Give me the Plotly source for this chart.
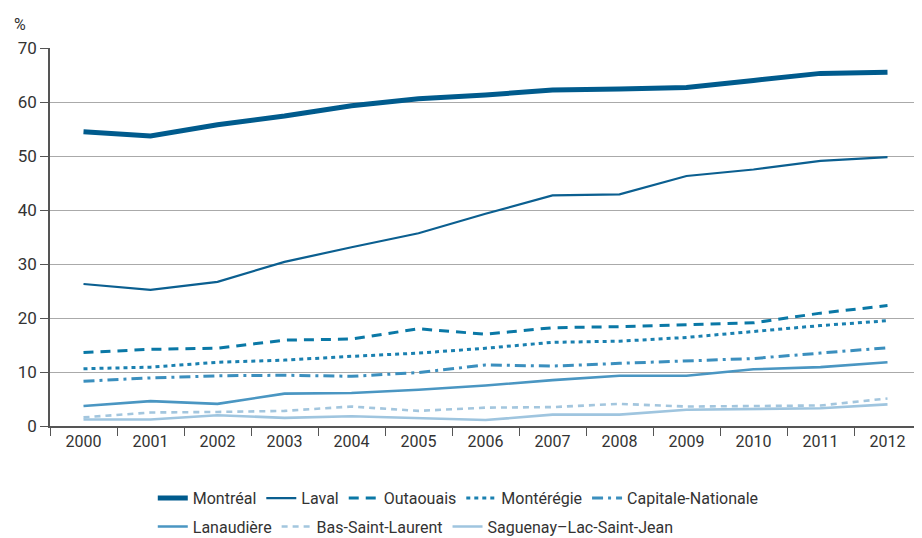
import plotly.graph_objects as go

years = [str(y) for y in range(2000, 2013)]
montreal = [54.5, 53.7, 55.8, 57.4, 59.3, 60.6, 61.3, 62.2, 62.4, 62.7, 64.0, 65.3, 65.5]
laval = [26.3, 25.2, 26.7, 30.4, 33.1, 35.7, 39.3, 42.7, 42.9, 46.3, 47.5, 49.1, 49.8]
outaouais = [13.6, 14.2, 14.4, 15.9, 16.1, 18.0, 17.0, 18.2, 18.4, 18.8, 19.1, 20.9, 22.3]
monteregie = [10.6, 10.9, 11.8, 12.2, 12.9, 13.5, 14.4, 15.5, 15.7, 16.4, 17.5, 18.6, 19.5]
capitale = [8.3, 8.9, 9.3, 9.4, 9.2, 9.9, 11.3, 11.1, 11.6, 12.1, 12.5, 13.5, 14.5]
lanaudiere = [3.7, 4.6, 4.1, 6.0, 6.1, 6.7, 7.5, 8.5, 9.3, 9.3, 10.5, 10.9, 11.8]
bas_st_laurent = [1.6, 2.5, 2.6, 2.8, 3.6, 2.8, 3.4, 3.5, 4.1, 3.6, 3.7, 3.8, 5.1]
saguenay = [1.2, 1.2, 2.0, 1.5, 1.8, 1.5, 1.1, 2.1, 2.1, 3.0, 3.2, 3.3, 4.0]

FONT = "Liberation Sans Narrow, Arial Narrow, Roboto, Liberation Sans, sans-serif"

series = [
    ("Montréal", montreal, "#005b8d", 5, "solid", "legend"),
    ("Laval", laval, "#0b5f90", 2.2, "solid", "legend"),
    ("Outaouais", outaouais, "#0a78a6", 3, "10px,7px", "legend"),
    ("Montérégie", monteregie, "#1a80b0", 3, "4px,4px", "legend"),
    ("Capitale-Nationale", capitale, "#3b8fbe", 3, "11px,5px,3px,5px", "legend"),
    ("Lanaudière", lanaudiere, "#4a96c2", 2.6, "solid", "legend2"),
    ("Bas-Saint-Laurent", bas_st_laurent, "#a3c6de", 2.6, "6px,5px", "legend2"),
    ("Saguenay–Lac-Saint-Jean", saguenay, "#9fc5df", 2.6, "solid", "legend2"),
]

fig = go.Figure()
for name, vals, color, w, dash, lg in series:
    fig.add_trace(go.Scatter(
        x=years, y=vals, name=name, mode="lines",
        line=dict(color=color, width=w, dash=dash),
        legend=lg,
    ))

legend_common = dict(
    orientation="h", xanchor="left", yanchor="top",
    font=dict(family=FONT, size=16, color="#333"),
    bgcolor="rgba(0,0,0,0)", itemwidth=30, tracegroupgap=0,
    traceorder="normal",
)

fig.update_layout(
    width=914, height=530,
    margin=dict(l=42, r=1, t=40, b=112, autoexpand=False),
    paper_bgcolor="white", plot_bgcolor="white",
    font=dict(family=FONT, size=16, color="#333"),
    showlegend=True,
    legend=dict(x=0.118, y=-0.146, **legend_common),
    legend2=dict(x=0.118, y=-0.221, **legend_common),
    xaxis=dict(
        type="category", range=[-0.5, 12.5], automargin=False,
        showgrid=False, showline=True, linecolor="#555", linewidth=1.5,
        ticks="outside", tickson="boundaries", ticklen=8, tickcolor="#555",
        tickfont=dict(family=FONT, size=16, color="#333"),
    ),
    yaxis=dict(
        range=[0, 70], dtick=10, showgrid=True, gridcolor="#aaaaaa", gridwidth=1,
        showline=True, linecolor="#555", linewidth=1.5, automargin=False,
        ticks="outside", ticklen=8, tickcolor="#555",
        tickfont=dict(family=FONT, size=17, color="#333"),
        zeroline=False,
    ),
    annotations=[dict(
        text="%", xref="paper", yref="paper", x=-0.035, y=1.0, yshift=12,
        xanchor="center", yanchor="bottom", showarrow=False,
        font=dict(family=FONT, size=16, color="#333"),
    )],
)

fig.write_html("out.html")
